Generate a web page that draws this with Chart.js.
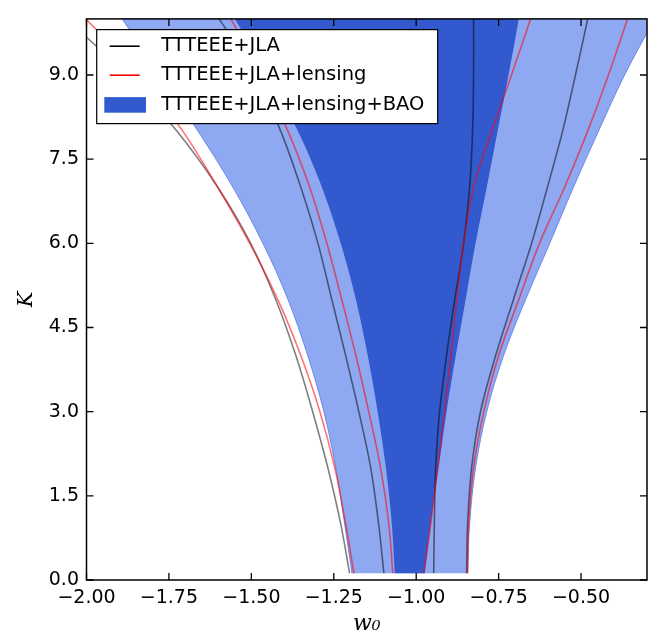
<!DOCTYPE html>
<html>
<head>
<meta charset="utf-8">
<script src="https://cdn.jsdelivr.net/npm/chart.js@4.4.1/dist/chart.umd.min.js"></script>
<style>
  html, body { margin: 0; padding: 0; background: #fff; }
  canvas { display: block; }
</style>
</head>
<body>
<canvas id="c" width="672" height="643"></canvas>
<script>
// ---- axis ticks ----
const xTicks = [-2.0, -1.75, -1.5, -1.25, -1.0, -0.75, -0.5];
const yTicks = [0.0, 1.5, 3.0, 4.5, 6.0, 7.5, 9.0];

// ---- series labels ----
const seriesLabels = ['TTTEEE+JLA', 'TTTEEE+JLA+lensing', 'TTTEEE+JLA+lensing+BAO'];

// ---- contour branches, points as [w0, K] ----
// TTTEEE+JLA (95% and 68%)
const jla95Left  = [[-1.202,0.12],[-1.229,1],[-1.268,2],[-1.314,3],[-1.365,4],[-1.426,5],[-1.502,6],[-1.602,7],[-1.726,8],[-1.877,9],[-2.062,10],[-2.117,10.3]];
const jla95Right = [[-0.471,10.3],[-0.480,10],[-0.517,9],[-0.556,8],[-0.602,7],[-0.650,6],[-0.705,5],[-0.759,4],[-0.805,3],[-0.832,2],[-0.844,1],[-0.847,0.12]];
const jla68Left  = [[-1.098,0.12],[-1.114,1],[-1.138,2],[-1.174,3],[-1.214,4],[-1.256,5],[-1.298,6],[-1.350,7],[-1.411,8],[-1.489,9],[-1.598,10],[-1.641,10.3]];
const jla68Right = [[-0.826,10.3],[-0.826,10],[-0.826,9],[-0.829,8],[-0.838,7],[-0.856,6],[-0.883,5],[-0.908,4],[-0.929,3],[-0.941,2],[-0.945,1],[-0.947,0.12]];

// TTTEEE+JLA+lensing (95% and 68%)
const lens95Left  = [[-1.189,0.12],[-1.214,1],[-1.247,2],[-1.292,3],[-1.350,4],[-1.420,5],[-1.505,6],[-1.602,7],[-1.708,8],[-1.838,9],[-2.002,10],[-2.050,10.3]];
const lens95Right = [[-0.341,10.3],[-0.359,10],[-0.417,9],[-0.480,8],[-0.550,7],[-0.626,6],[-0.689,5],[-0.750,4],[-0.795,3],[-0.826,2],[-0.841,1],[-0.844,0.12]];
const lens68Left  = [[-1.071,0.12],[-1.083,1],[-1.108,2],[-1.144,3],[-1.183,4],[-1.226,5],[-1.271,6],[-1.323,7],[-1.389,8],[-1.468,9],[-1.562,10],[-1.589,10.3]];
const lens68Right = [[-0.635,10.3],[-0.653,10],[-0.711,9],[-0.771,8],[-0.826,7],[-0.856,6],[-0.877,5],[-0.895,4],[-0.914,3],[-0.935,2],[-0.956,1],[-0.977,0.12]];

// TTTEEE+JLA+lensing+BAO filled regions (95% and 68%)
const bao95Left  = [[-1.195,0.12],[-1.217,1],[-1.244,2],[-1.280,3],[-1.329,4],[-1.389,5],[-1.465,6],[-1.556,7],[-1.662,8],[-1.777,9],[-1.892,10],[-1.929,10.3]];
const bao95Right = [[-0.250,10.3],[-0.277,10],[-0.368,9],[-0.447,8],[-0.523,7],[-0.595,6],[-0.668,5],[-0.735,4],[-0.786,3],[-0.820,2],[-0.838,1],[-0.844,0.12]];
const bao68Left  = [[-1.065,0.12],[-1.074,1],[-1.092,2],[-1.117,3],[-1.147,4],[-1.183,5],[-1.229,6],[-1.286,7],[-1.359,8],[-1.450,9],[-1.550,10],[-1.583,10.3]];
const bao68Right = [[-0.683,10.3],[-0.689,10],[-0.720,9],[-0.753,8],[-0.786,7],[-0.820,6],[-0.850,5],[-0.880,4],[-0.908,3],[-0.932,2],[-0.956,1],[-0.974,0.12]];

const pts = arr => arr.map(([x, y]) => ({x, y}));

const GRAY = 'rgba(0,0,0,0.5)';
const RED = 'rgba(255,0,0,0.55)';
const LIGHT = 'rgb(143,168,242)';
const DARK = 'rgb(50,90,206)';

function lineDs(data, color, order) {
  return { data: pts(data), showLine: true, borderColor: color, borderWidth: 1.6,
           pointRadius: 0, fill: false, tension: 0.35, order, clip: 0 };
}

const datasets = [
  { data: pts([...bao95Left, ...bao95Right]), showLine: true, fill: 'shape',
    backgroundColor: LIGHT, borderColor: 'rgba(95,125,228,0.85)', borderWidth: 1,
    pointRadius: 0, tension: 0.35, order: 10, clip: 0 },
  { data: pts([...bao68Left, ...bao68Right]), showLine: true, fill: 'shape',
    backgroundColor: DARK, borderColor: DARK, borderWidth: 0,
    pointRadius: 0, tension: 0.35, order: 9, clip: 0 },
  lineDs(jla95Left, GRAY, 3), lineDs(jla95Right, GRAY, 3),
  lineDs(jla68Left, GRAY, 3), lineDs(jla68Right, GRAY, 3),
  lineDs(lens95Left, RED, 2), lineDs(lens95Right, RED, 2),
  lineDs(lens68Left, RED, 2), lineDs(lens68Right, RED, 2)
];

const frame = {
  id: 'frame',
  afterDatasetsDraw(chart) {
    const {ctx, chartArea: a, scales: {x, y}} = chart;
    ctx.save();
    ctx.strokeStyle = '#000';
    ctx.lineWidth = 1.3;
    ctx.beginPath();
    for (const t of x.ticks) {
      const px = x.getPixelForValue(t.value);
      ctx.moveTo(px, a.bottom); ctx.lineTo(px, a.bottom - 7);
      ctx.moveTo(px, a.top); ctx.lineTo(px, a.top + 7);
    }
    for (const t of y.ticks) {
      const py = y.getPixelForValue(t.value);
      ctx.moveTo(a.left, py); ctx.lineTo(a.left + 7, py);
      ctx.moveTo(a.right, py); ctx.lineTo(a.right - 7, py);
    }
    ctx.stroke();
    ctx.lineWidth = 1.5;
    ctx.strokeRect(a.left, a.top, a.right - a.left, a.bottom - a.top);
    ctx.restore();
  },
  afterDraw(chart) {
    const {ctx, chartArea: a} = chart;
    const bx = a.left + 10.2, by = a.top + 10.7, bw = 341, bh = 94;
    ctx.save();
    ctx.fillStyle = '#fff';
    ctx.fillRect(bx, by, bw, bh);
    ctx.strokeStyle = '#000';
    ctx.lineWidth = 1.2;
    ctx.strokeRect(bx, by, bw, bh);
    const rows = [by + 16.6, by + 45.6, by + 75.3];
    ctx.lineWidth = 1.6;
    ctx.strokeStyle = '#000';
    ctx.beginPath(); ctx.moveTo(bx + 13, rows[0]); ctx.lineTo(bx + 43, rows[0]); ctx.stroke();
    ctx.strokeStyle = '#ff0000';
    ctx.beginPath(); ctx.moveTo(bx + 13, rows[1]); ctx.lineTo(bx + 43, rows[1]); ctx.stroke();
    ctx.fillStyle = DARK;
    ctx.fillRect(bx + 7.6, rows[2] - 7.8, 41.7, 15.6);
    ctx.fillStyle = '#000';
    ctx.font = '19.5px "DejaVu Sans"';
    ctx.textBaseline = 'middle';
    ctx.textAlign = 'left';
    seriesLabels.forEach((s, i) => ctx.fillText(s, bx + 64.5, rows[i]));
    ctx.restore();
  }
};

new Chart(document.getElementById('c'), {
  type: 'scatter',
  data: { datasets },
  plugins: [frame],
  options: {
    responsive: false,
    animation: false,
    devicePixelRatio: 1,
    layout: { padding: { left: 0, top: 2, right: 25, bottom: 0 } },
    elements: { line: { capBezierPoints: false } },
    plugins: { legend: { display: false }, tooltip: { enabled: false } },
    scales: {
      x: {
        type: 'linear', min: -2.0, max: -0.3,
        afterBuildTicks: s => { s.ticks = xTicks.map(v => ({value: v})); },
        afterFit: s => { s.height = 63; },
        grid: { display: false, drawTicks: false, tickLength: 0 },
        border: { display: false },
        ticks: { color: '#000', padding: 7, maxRotation: 0, autoSkip: false,
                 font: { family: 'DejaVu Sans', size: 19 },
                 callback: v => v.toFixed(2).replace('-', '\u2212') },
        title: { display: true, text: 'w\u2080', color: '#000',
                 font: { family: 'DejaVu Serif', size: 22, style: 'italic' },
                 padding: { top: 0, bottom: 6 } }
      },
      y: {
        type: 'linear', min: 0, max: 10,
        afterBuildTicks: s => { s.ticks = yTicks.map(v => ({value: v})); },
        afterFit: s => { s.width = 86.5; },
        grid: { display: false, drawTicks: false, tickLength: 0 },
        border: { display: false },
        ticks: { color: '#000', padding: 7.5, autoSkip: false,
                 font: { family: 'DejaVu Sans', size: 19 },
                 callback: v => v.toFixed(1) },
        title: { display: true, text: 'K', color: '#000',
                 font: { family: 'DejaVu Serif', size: 21, style: 'italic' },
                 padding: { top: 14, bottom: 0 } }
      }
    }
  }
});
</script>
</body>
</html>
